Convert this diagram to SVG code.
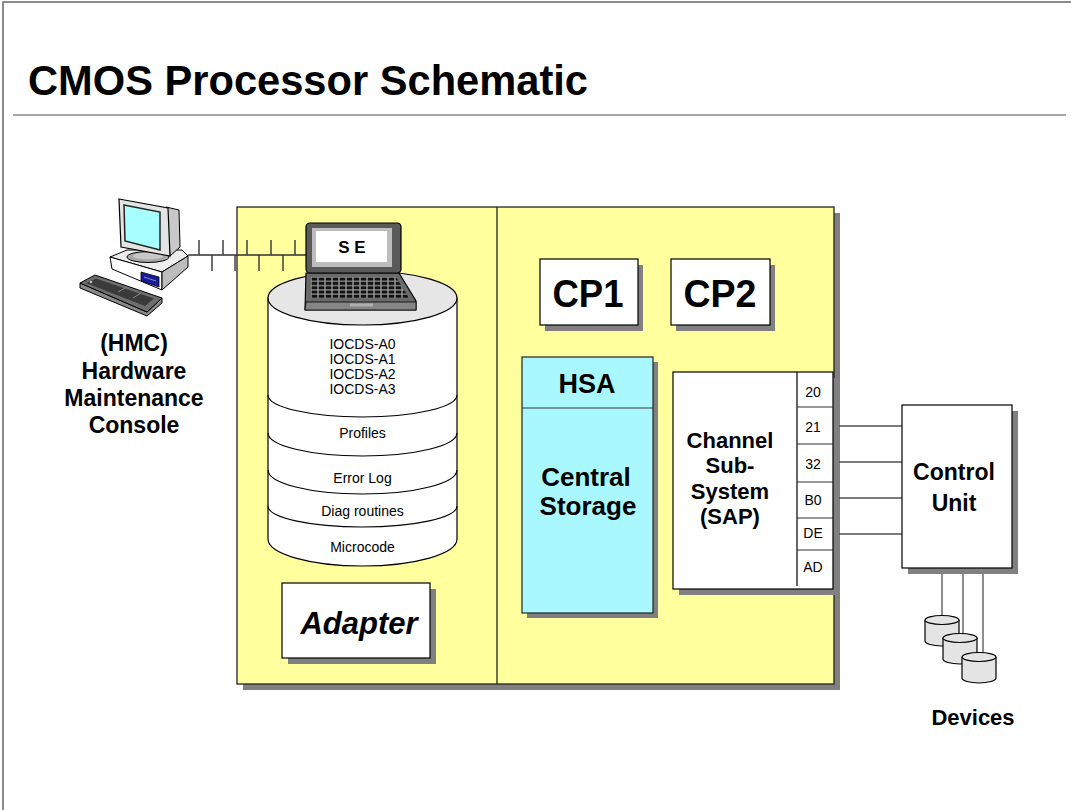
<svg xmlns="http://www.w3.org/2000/svg" width="1071" height="810" viewBox="0 0 1071 810">
<defs>
<style>
.t{font-family:"Liberation Sans",Arial,Helvetica,sans-serif;fill:#000}
.b{font-weight:bold}
.m{text-anchor:middle}
.box{fill:#fff;stroke:#000;stroke-width:1.2}
.sh{fill:#808080}
.ln{stroke:#505050;stroke-width:1.3;fill:none}
.tick{stroke:#404040;stroke-width:1.5}
.cyl{fill:#fff;stroke:#000;stroke-width:1.2}
.sep{fill:none;stroke:#000;stroke-width:1.1}
.dev{fill:#E4E4E4;stroke:#000;stroke-width:1.2}
.port{font-size:14px}
.dsk{font-size:14px}
</style>
<pattern id="keys" width="7" height="4.3" patternUnits="userSpaceOnUse" x="311" y="277">
<rect width="7" height="4.3" fill="#9a9a9a"/>
<rect x="0.7" y="0.6" width="5.6" height="3.1" fill="#111"/>
</pattern>
</defs>

<rect width="1071" height="810" fill="#fff"/>
<!-- page frame and heading -->
<path d="M3,810 V2 H1071" fill="none" stroke="#666" stroke-width="1.5"/>
<text class="t b" x="28" y="95" font-size="42" textLength="560" lengthAdjust="spacingAndGlyphs">CMOS Processor Schematic</text>
<line x1="13" y1="115" x2="1066" y2="115" stroke="#888" stroke-width="1.5"/>

<!-- processor frame -->
<g id="processor">
<rect class="sh" x="243" y="213" width="597" height="477"/>
<rect x="237" y="207" width="597" height="477" fill="#FFFF9E" stroke="#222" stroke-width="1.3"/>
<line x1="497" y1="207" x2="497" y2="684" stroke="#222" stroke-width="1.3"/>
</g>

<!-- connectors -->
<g id="connectors">
<line class="ln" x1="188" y1="255" x2="308" y2="255" style="stroke:#303030"/>
<g class="tick">
<line x1="199" y1="240" x2="199" y2="255"/>
<line x1="223" y1="240" x2="223" y2="255"/>
<line x1="247" y1="240" x2="247" y2="255"/>
<line x1="271" y1="240" x2="271" y2="255"/>
<line x1="295" y1="240" x2="295" y2="255"/>
<line x1="212" y1="255" x2="212" y2="271"/>
<line x1="235" y1="255" x2="235" y2="271"/>
<line x1="259" y1="255" x2="259" y2="271"/>
<line x1="283" y1="255" x2="283" y2="271"/>
</g>
<line class="ln" x1="833" y1="426" x2="902" y2="426"/>
<line class="ln" x1="833" y1="462" x2="902" y2="462"/>
<line class="ln" x1="833" y1="498" x2="902" y2="498"/>
<line class="ln" x1="833" y1="534" x2="902" y2="534"/>
<line class="ln" x1="942" y1="568" x2="942" y2="616"/>
<line class="ln" x1="963" y1="568" x2="963" y2="634"/>
<line class="ln" x1="983" y1="568" x2="983" y2="653"/>
</g>

<!-- hardware maintenance console -->
<g id="hmc">
<polygon points="80,283 80,288 147,316 162,303 162,298 147,312" fill="#8a8a8a" stroke="#000" stroke-width="1"/>
<polygon points="80,283 95,275 162,298 147,312" fill="#6E6E6E" stroke="#000" stroke-width="1"/>
<polygon points="86,283 96,278.5 154,298.5 145,306" fill="#3A3A3A"/>
<line x1="118" y1="292" x2="127" y2="287" stroke="#8a8a8a" stroke-width="1"/>
<line x1="133" y1="298" x2="141" y2="293" stroke="#8a8a8a" stroke-width="1"/>
<circle cx="91" cy="282" r="1.3" fill="#bbb"/>
<polygon points="110,257 127,250 182,250 188,256 162,272" fill="#EEEEEE" stroke="#000" stroke-width="1"/>
<polygon points="110,257 162,272 162,290 112,269" fill="#fff" stroke="#000" stroke-width="1"/>
<polygon points="162,272 188,256 188,267 162,290" fill="#BDBDBD" stroke="#000" stroke-width="1"/>
<polygon points="141,272 159,277 159,287 141,281" fill="#1A1AA0" stroke="#000" stroke-width="0.8"/>
<line x1="144" y1="277" x2="156" y2="281" stroke="#9ab" stroke-width="0.8"/>
<ellipse cx="148" cy="257" rx="21" ry="5.5" fill="#A8A8A8" stroke="#000" stroke-width="1"/>
<ellipse cx="148" cy="256" rx="15" ry="3.2" fill="#C8C8C8"/>
<polygon points="166,207 179,210 180,247 170,256" fill="#C8C8C8" stroke="#000" stroke-width="1"/>
<polygon points="119,199 168,208 170,256 121,247" fill="#E4E4E4" stroke="#000" stroke-width="1.2"/>
<polygon points="124,205 160,212 160,250 125,241" fill="#A8FFFF" stroke="#222" stroke-width="1.5"/>
<text class="t b m" x="134" y="351" font-size="23">(HMC)</text>
<text class="t b m" x="134" y="379" font-size="23">Hardware</text>
<text class="t b m" x="134" y="406" font-size="23">Maintenance</text>
<text class="t b m" x="134" y="433" font-size="23">Console</text>
</g>

<!-- service element disk stack -->
<g id="disk">
<path class="cyl" d="M268,298 V539 A94.5,27 0 0 0 457,539 V298 Z"/>
<ellipse cx="362.5" cy="298" rx="94.5" ry="27" fill="#E6E6E6" stroke="#000" stroke-width="1.2"/>
<path class="sep" d="M268,395 A94.5,22 0 0 0 457,395"/>
<path class="sep" d="M268,433 A94.5,23 0 0 0 457,433"/>
<path class="sep" d="M268,470 A94.5,24 0 0 0 457,470"/>
<path class="sep" d="M268,506 A94.5,21 0 0 0 457,506"/>
<text class="t m dsk" x="362.5" y="349">IOCDS-A0</text>
<text class="t m dsk" x="362.5" y="364">IOCDS-A1</text>
<text class="t m dsk" x="362.5" y="379">IOCDS-A2</text>
<text class="t m dsk" x="362.5" y="394">IOCDS-A3</text>
<text class="t m dsk" x="362.5" y="438">Profiles</text>
<text class="t m dsk" x="362.5" y="483">Error Log</text>
<text class="t m dsk" x="362.5" y="516">Diag routines</text>
<text class="t m dsk" x="362.5" y="552">Microcode</text>
</g>

<!-- service element laptop -->
<g id="se">
<polygon points="306,273 399,273 416,301 416,310 305,310" fill="#6A6A6A" stroke="#000" stroke-width="1.2"/>
<polygon points="306,302 416,302 416,310 305,310" fill="#858585" stroke="#000" stroke-width="0.8"/>
<polygon points="311,277 396,277 409,298 311,298" fill="url(#keys)"/>
<rect x="350" y="303.5" width="23" height="3" fill="#B0B0B0"/>
<rect x="306" y="223" width="95" height="50" rx="4" fill="#5A5A5A" stroke="#000" stroke-width="1.2"/>
<rect x="312" y="228" width="80" height="39" fill="#BDBDBD"/>
<rect x="316" y="231" width="71" height="31" fill="#fff"/>
<text class="t b m" x="352" y="253" font-size="17">S E</text>
</g>

<!-- adapter -->
<g id="adapter">
<rect class="sh" x="288" y="589" width="148" height="75"/>
<rect class="box" x="282" y="583" width="148" height="75"/>
<text class="t b m" x="359" y="634" font-size="31" font-style="italic">Adapter</text>
</g>

<!-- central processors -->
<g id="cp1">
<rect class="sh" x="545" y="265" width="98" height="66"/>
<rect class="box" x="540" y="259" width="98" height="66"/>
<text class="t b m" x="588" y="307" font-size="39" textLength="71" lengthAdjust="spacingAndGlyphs">CP1</text>
</g>
<g id="cp2">
<rect class="sh" x="676" y="265" width="99" height="66"/>
<rect class="box" x="671" y="259" width="99" height="66"/>
<text class="t b m" x="720" y="307" font-size="39" textLength="73" lengthAdjust="spacingAndGlyphs">CP2</text>
</g>

<!-- storage -->
<g id="storage">
<rect class="sh" x="527" y="362" width="131" height="256"/>
<rect x="522" y="357" width="131" height="256" fill="#AAF8FF" stroke="#222" stroke-width="1.2"/>
<line x1="522" y1="408" x2="653" y2="408" stroke="#333" stroke-width="1.2"/>
<text class="t b m" x="587" y="393" font-size="27">HSA</text>
<text class="t b m" x="586" y="486" font-size="26">Central</text>
<text class="t b m" x="588" y="515" font-size="26">Storage</text>
</g>

<!-- channel subsystem -->
<g id="css">
<rect class="sh" x="679" y="378" width="160" height="217"/>
<rect class="box" x="673" y="372" width="160" height="217"/>
<line x1="797" y1="372" x2="797" y2="586" stroke="#000" stroke-width="1.2"/>
<g stroke="#333" stroke-width="1.2">
<line x1="797" y1="407" x2="833" y2="407"/>
<line x1="797" y1="444" x2="833" y2="444"/>
<line x1="797" y1="482" x2="833" y2="482"/>
<line x1="797" y1="518" x2="833" y2="518"/>
<line x1="797" y1="550" x2="833" y2="550"/>
</g>
<text class="t m port" x="813" y="397">20</text>
<text class="t m port" x="813" y="432">21</text>
<text class="t m port" x="813" y="469">32</text>
<text class="t m port" x="813" y="505">B0</text>
<text class="t m port" x="813" y="538">DE</text>
<text class="t m port" x="813" y="572">AD</text>
<text class="t b m" x="730" y="448" font-size="22">Channel</text>
<text class="t b m" x="730" y="473" font-size="22">Sub-</text>
<text class="t b m" x="730" y="499" font-size="22">System</text>
<text class="t b m" x="730" y="524" font-size="22">(SAP)</text>
</g>

<!-- control unit -->
<g id="control-unit">
<rect class="sh" x="908" y="411" width="110" height="163"/>
<rect class="box" x="902" y="405" width="110" height="163"/>
<text class="t b m" x="954" y="480" font-size="23">Control</text>
<text class="t b m" x="954" y="511" font-size="23">Unit</text>
</g>

<!-- devices -->
<g id="devices">
<path class="dev" d="M925,620 V641 A17,5 0 0 0 959,641 V620"/>
<ellipse class="dev" cx="942" cy="620" rx="17" ry="4.5"/>
<path class="dev" d="M943,638 V659 A17,5 0 0 0 977,659 V638"/>
<ellipse class="dev" cx="960" cy="638" rx="17" ry="4.5"/>
<path class="dev" d="M962,657 V678 A17,5 0 0 0 996,678 V657"/>
<ellipse class="dev" cx="979" cy="657" rx="17" ry="4.5"/>
<text class="t b m" x="973" y="725" font-size="22">Devices</text>
</g>
</svg>
